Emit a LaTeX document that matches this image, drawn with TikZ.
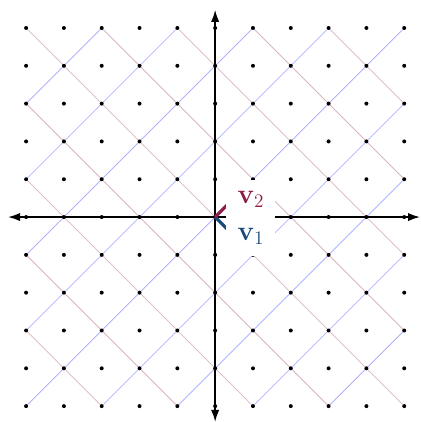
\documentclass[tikz,border=0pt]{standalone}
\usetikzlibrary{arrows.meta}
\definecolor{vone}{RGB}{28,72,122}
\definecolor{vtwo}{RGB}{140,28,72}
\definecolor{bline}{RGB}{178,178,255}
\definecolor{mline}{RGB}{218,180,192}
\tikzset{
  bluelat/.style={bline, line width=0.6pt},
  redlat/.style={mline, line width=0.6pt},
  latdot/.style={circle, fill=black, inner sep=0pt, minimum size=3pt},
  axis/.style={line width=1.3pt, {Latex[length=3.2mm,width=2.2mm]}-{Latex[length=3.2mm,width=2.2mm]}},
  vec/.style={line width=2.4pt},
  lab/.style={fill=white, inner sep=0.3cm, align=left, font=\fontsize{20.5}{27.5}\selectfont}
}
\begin{document}
\begin{tikzpicture}
\useasboundingbox (-5.69,-5.42) rectangle (5.42,5.74);
% lattice lines x - y = c
\foreach \c in {0,2,4,6,8}{
  \coordinate (ba\c) at (-5+\c,-5);
  \coordinate (bb\c) at (5,5-\c);
  \draw[bluelat] (ba\c) -- (bb\c);
}
\foreach \c in {2,4,6,8}{
  \coordinate (bc\c) at (-5,-5+\c);
  \coordinate (bd\c) at (5-\c,5);
  \draw[bluelat] (bc\c) -- (bd\c);
}
% lattice lines x + y = c
\foreach \c in {0,2,4,6,8}{
  \coordinate (ra\c) at (\c-5,5);
  \coordinate (rb\c) at (5,\c-5);
  \draw[redlat] (ra\c) -- (rb\c);
}
\foreach \c in {2,4,6,8}{
  \coordinate (rc\c) at (-5,5-\c);
  \coordinate (rd\c) at (5-\c,-5);
  \draw[redlat] (rc\c) -- (rd\c);
}
% dots
\foreach \i in {-5,...,5}{
  \foreach \j in {-5,...,5}{
    \node[latdot] (d\i\j) at (\i,\j) {};
  }
}
% axes
\coordinate (O) at (0,0);
\coordinate (xl) at (-5.48,0);
\coordinate (xr) at (5.42,0);
\coordinate (yb) at (0,-5.42);
\coordinate (yt) at (0,5.48);
\draw[axis] (xl) -- (xr);
\draw[axis] (yb) -- (yt);
% vectors
\coordinate (v1end) at (0.45,-0.45);
\coordinate (v2end) at (0.45,0.45);
\draw[vec, vone] (O) -- (v1end);
\draw[vec, vtwo] (O) -- (v2end);
% labels
\node[lab, anchor=north west] (labels) at (0.29,0.98) {\textcolor{vtwo}{$\mathbf{v}_2$}\\\textcolor{vone}{$\mathbf{v}_1$}};
\end{tikzpicture}
\end{document}
